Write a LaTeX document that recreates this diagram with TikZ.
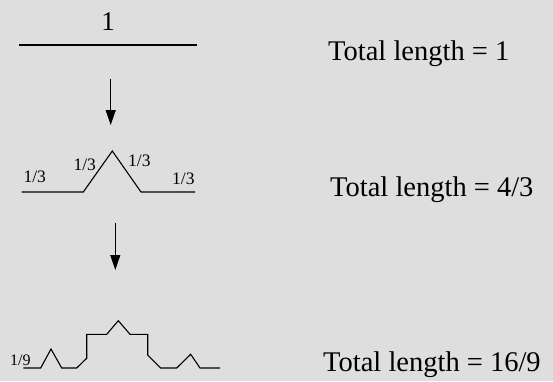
\documentclass[tikz,border=0pt]{standalone}
\usepackage{fontspec}
\setmainfont{Liberation Serif}
\usetikzlibrary{arrows.meta}
\definecolor{bg}{RGB}{222,222,222}
\begin{document}
\begin{tikzpicture}[x=1pt,y=-1pt,
  curve/.style={line width=1.1pt,line join=miter},
  flow/.style={line width=1.1pt,-{Triangle[length=15pt,width=10pt]}},
  big/.style={inner sep=0pt,anchor=base west,font=\fontsize{28.5}{30}\selectfont},
  small/.style={inner sep=0pt,anchor=base west,font=\fontsize{17.5}{19}\selectfont},
  tiny/.style={inner sep=0pt,anchor=base west,font=\fontsize{16}{17}\selectfont}]
\fill[bg] (0,0) rectangle (553,381);
\useasboundingbox (0,0) rectangle (553,381);
% level 0
\node[inner sep=0pt,anchor=base,font=\fontsize{27}{29}\selectfont] (one) at (108,30) {1};
\draw[curve] (19,45) -- (197,45);
\node[big] (t1) at (328,60) {Total length = 1};
% arrow 1
\coordinate (a1s) at (110.7,79);
\coordinate (a1e) at (110.7,125);
\draw[flow] (a1s) -- (a1e);
% level 1
\draw[curve] (21.7,192) -- (83.3,192) -- (112.3,151) -- (141,192) -- (195,192);
\node[small] (l1) at (23.3,182) {1/3};
\node[small] (l2) at (73.3,170) {1/3};
\node[small] (l3) at (128,166.7) {1/3};
\node[small] (l4) at (172,184.3) {1/3};
\node[big] (t2) at (330,196.7) {Total length = 4/3};
% arrow 2
\coordinate (a2s) at (115.3,223);
\coordinate (a2e) at (115.3,270);
\draw[flow] (a2s) -- (a2e);
% level 2
\draw[curve] (23.3,368) -- (40.7,368) -- (51,349) -- (61.7,368) -- (76.7,368)
  -- (86.7,358.3) -- (86.7,334.3) -- (106.7,334.3) -- (118.3,320.7) -- (130,334.3)
  -- (147.7,334.3) -- (147.7,355) -- (160.7,368) -- (176.7,368) -- (190.7,354.3)
  -- (200,368) -- (220,368);
\node[tiny] (l9) at (10,365) {1/9};
\node[big] (t3) at (323,371.7) {Total length = 16/9};
\end{tikzpicture}
\end{document}
